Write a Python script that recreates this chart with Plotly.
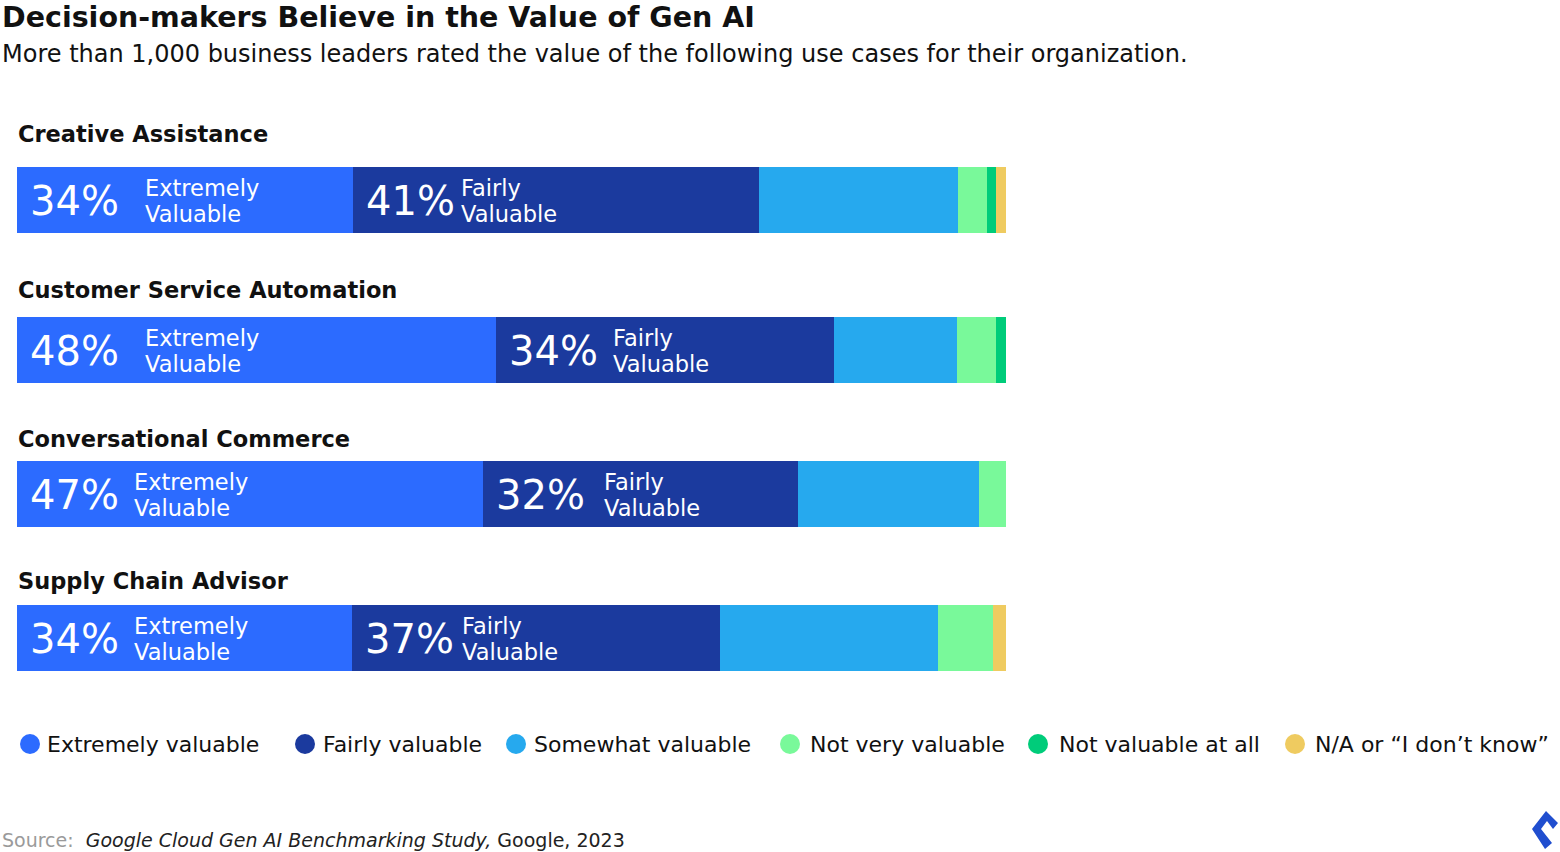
import plotly.graph_objects as go

# ---------------- data ----------------
use_cases = ["Creative Assistance", "Customer Service Automation",
             "Conversational Commerce", "Supply Chain Advisor"]
extremely = [34.0, 48.4, 47.1, 33.9]
fairly = [41.0, 34.2, 31.9, 37.2]
somewhat = [20.1, 12.4, 18.3, 22.0]
not_very = [3.0, 4.0, 2.9, 5.6]
not_at_all = [0.9, 1.0, 0.0, 0.0]
na_dont_know = [1.0, 0.0, 0.0, 1.3]

series_names = ["Extremely valuable", "Fairly valuable", "Somewhat valuable",
                "Not very valuable", "Not valuable at all", "N/A or \u201cI don\u2019t know\u201d"]
series_values = [extremely, fairly, somewhat, not_very, not_at_all, na_dont_know]

# ---------------- style / layout ----------------
W, H = 1560, 852
FONT = "DejaVu Sans"
colors = ["#2C6BFF", "#1B3A9E", "#26A9EE", "#79F99A", "#00CC7A", "#EFCB60"]
bar_centers = [200, 350, 494, 638]          # vertical pixel positions of bars
label_centers = [134, 290, 439, 581]         # category title positions
extreme_label_off = [126, 126, 115, 115]     # px offset of "Extremely Valuable" text
fairly_label_off = [106, 115, 119, 108]      # px offset of "Fairly Valuable" text
legend_circle_x = [30, 305, 516, 790, 1038, 1295]
legend_text_x = [45, 321, 532, 808, 1057, 1313]
LEGEND_Y = 744

fig = go.Figure()
for name, vals, col in zip(series_names, series_values, colors):
    fig.add_trace(go.Bar(
        y=bar_centers, x=vals, orientation="h", name=name,
        marker=dict(color=col, line=dict(width=0)), width=66,
        showlegend=False, hoverinfo="x+name"))

ann = []
def px(x):
    return x / W

# title / subtitle
ann.append(dict(text="<b>Decision-makers Believe in the Value of Gen AI</b>",
                x=px(0), y=17, xref="paper", yref="y", xanchor="left", yanchor="middle",
                showarrow=False, font=dict(family=FONT, size=28.5, color="#111111")))
ann.append(dict(text="More than 1,000 business leaders rated the value of the following use cases for their organization.",
                x=px(0), y=54, xref="paper", yref="y", xanchor="left", yanchor="middle",
                showarrow=False, font=dict(family=FONT, size=24, color="#111111")))

# category labels
for name, yc in zip(use_cases, label_centers):
    ann.append(dict(text=f"<b>{name}</b>", x=px(16), y=yc, xref="paper", yref="y",
                    xanchor="left", yanchor="middle", showarrow=False,
                    font=dict(family=FONT, size=22.5, color="#111111")))

# in-bar labels
for i, yc in enumerate(bar_centers):
    starts = [0, extremely[i]]
    vals = [extremely[i], fairly[i]]
    words = ["Extremely", "Fairly"]
    offs = [extreme_label_off[i], fairly_label_off[i]]
    for s, v, w, o in zip(starts, vals, words, offs):
        ann.append(dict(text=f"{v:.0f}%", x=s, y=yc + 1, xref="x", yref="y",
                        xanchor="left", yanchor="middle", xshift=11, showarrow=False,
                        font=dict(family=FONT, size=40, color="white")))
        ann.append(dict(text=w, x=s, y=yc - 12, xref="x", yref="y",
                        xanchor="left", yanchor="middle", xshift=o, showarrow=False,
                        font=dict(family=FONT, size=22.5, color="white")))
        ann.append(dict(text="Valuable", x=s, y=yc + 14, xref="x", yref="y",
                        xanchor="left", yanchor="middle", xshift=o, showarrow=False,
                        font=dict(family=FONT, size=22.5, color="white")))

# legend (manual, circular markers)
shapes = []
for name, col, cx, tx in zip(series_names, colors, legend_circle_x, legend_text_x):
    shapes.append(dict(type="circle", xref="paper", yref="y",
                       x0=px(cx - 10), x1=px(cx + 10), y0=LEGEND_Y - 10, y1=LEGEND_Y + 10,
                       fillcolor=col, line=dict(width=0)))
    ann.append(dict(text=name, x=px(tx), y=LEGEND_Y, xref="paper", yref="y",
                    xanchor="left", yanchor="middle", showarrow=False,
                    font=dict(family=FONT, size=22, color="#111111")))

# source
ann.append(dict(text="<span style='color:#9a9a9a'>Source:</span>  <i>Google Cloud Gen AI Benchmarking Study,</i> Google, 2023",
                x=px(0), y=840, xref="paper", yref="y", xanchor="left", yanchor="middle",
                showarrow=False, font=dict(family=FONT, size=19, color="#222222")))

# small logo mark
shapes.append(dict(type="path", xref="paper", yref="y",
                   path=(f"M {px(1546)} 811 L {px(1532)} 829 L {px(1545)} 849 L {px(1552)} 843 "
                         f"L {px(1541)} 829 L {px(1547)} 821 L {px(1553)} 829 L {px(1558)} 823 Z"),
                   fillcolor="#204ECF", line=dict(width=0)))

fig.update_layout(
    width=W, height=H, barmode="stack",
    margin=dict(l=0, r=0, t=0, b=0),
    paper_bgcolor="white", plot_bgcolor="white",
    xaxis=dict(domain=[17 / W, 1006 / W], range=[0, 100], visible=False, fixedrange=True),
    yaxis=dict(domain=[0, 1], range=[H, 0], visible=False, fixedrange=True),
    annotations=ann, shapes=shapes, bargap=0,
    font=dict(family=FONT),
)

fig.write_html("out.html")
